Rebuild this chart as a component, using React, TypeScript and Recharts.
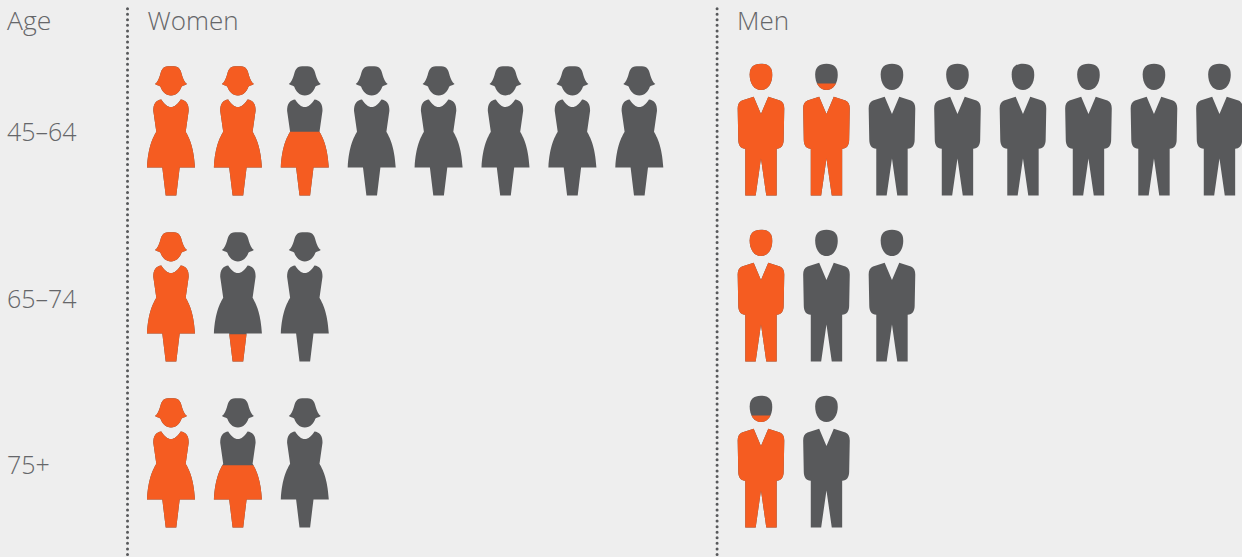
import React from 'react';
import { ScatterChart, Scatter, XAxis, YAxis, ReferenceLine } from 'recharts';

const ageGroups = ['45–64', '65–74', '75+'];
// icons drawn in each row, and how many of them are orange
const womenIcons = [8, 3, 3];
const womenFilled = [2.49, 1.21, 1.48];
const menIcons = [8, 3, 2];
const menFilled = [1.85, 1, 0.85];

const ORANGE = '#f55c21';
const GREY = '#58595b';
const TEXT = '#656669';
const FONT = '"Open Sans", sans-serif';

const WOMAN_PATHS = [
  'M0 0.5 C4 0.5 6 0.7 7.5 2 C9.5 3.7 10 6 11 9.5 C12 13 13.5 16.5 16 18.3 C13.5 19.8 11.5 20 10.5 21 C9 25.5 5.5 29.7 0 29.7 C-5.5 29.7 -9 25.5 -10.5 21 C-11.5 20 -13.5 19.8 -16 18.3 C-13.5 16.5 -12 13 -11 9.5 C-10 6 -9.5 3.7 -7.5 2 C-6 0.7 -4 0.5 0 0.5Z',
  'M-9.7 33.7 C-6.5 38.5 -3.5 41.3 0 41.3 C3.5 41.3 6.5 38.5 9.7 33.7 C12 33.8 14 35 15.5 36.8 C17.3 39 17.7 42 17.7 45 L14.7 66 C17.5 71 22.8 80 24 101.7 L8.7 101.7 L5.3 129.7 L-5.3 129.7 L-8.7 101.7 L-24 101.7 C-22.8 80 -17.5 71 -14.7 66 L-17.7 45 C-17.7 42 -17.3 39 -15.5 36.8 C-14 35 -12 33.8 -9.7 33.7Z',
];
const MAN_PATHS = [
  'M0 0 C7.5 0 11.3 3.5 11.3 11 C11.3 19.5 7 26.3 0 26.3 C-7 26.3 -11.3 19.5 -11.3 11 C-11.3 3.5 -7.5 0 0 0Z',
  'M7.3 33 L19 36.8 C22 38 23.3 41 23.3 44.7 L22.7 76 C22.7 81 20.5 85 15.7 85 L15.7 131.7 L5.3 131.7 L0 94.7 L-5.3 131.7 L-15.7 131.7 L-15.7 85 C-20.5 85 -22.7 81 -22.7 76 L-23.3 44.7 C-23.3 41 -22 38 -19 36.8 L-7.3 33 L0 50.3Z',
];

const buildRows = (icons: number[], filled: number[]) =>
  icons.flatMap((count, row) =>
    Array.from({ length: count }, (_, slot) => ({
      slot,
      row,
      share: Math.max(0, Math.min(1, filled[row] - slot)),
    }))
  );

const womenData = buildRows(womenIcons, womenFilled);
const menData = buildRows(menIcons, menFilled);

const Person = ({ cx, cy, payload, paths, height }: any) => {
  const id = React.useId();
  const top = cy + 65.4 - height;
  const orangeTop = height * (1 - payload.share);
  return (
    <g transform={`translate(${cx},${top})`}>
      <clipPath id={id}>
        <rect x={-30} y={orangeTop} width={60} height={height - orangeTop + 1} />
      </clipPath>
      {paths.map((d: string) => (
        <path key={d} d={d} fill={GREY} />
      ))}
      {payload.share > 0 &&
        paths.map((d: string) => <path key={d} d={d} fill={ORANGE} clipPath={`url(#${id})`} />)}
    </g>
  );
};

const AgeTick = ({ y, payload }: any) => (
  <text x={7} y={y + 11.5} fontFamily={FONT} fontWeight={300} fontSize={25} fill={TEXT}>
    {ageGroups[payload.value]}
  </text>
);

const header = (value: string) => ({ viewBox }: any) => (
  <text x={viewBox.x + 20} y={30} fontFamily={FONT} fontWeight={300} fontSize={26} fill={TEXT}>
    {value}
  </text>
);

const dividerProps = {
  stroke: GREY,
  strokeWidth: 3,
  strokeLinecap: 'round' as const,
  strokeDasharray: '0 5.57',
};

export default function App() {
  return (
    <div style={{ position: 'absolute', left: 0, top: 0, width: 1242, height: 557, background: '#eeeeee' }}>
      <ScatterChart width={1242} height={557} margin={{ top: 0, right: 0, bottom: 0, left: 0 }}>
        <XAxis xAxisId="women" type="number" dataKey="slot" domain={[-2.556, 16.009]} allowDataOverflow hide />
        <XAxis xAxisId="men" type="number" dataKey="slot" domain={[-11.618, 7.344]} allowDataOverflow hide />
        <YAxis
          type="number"
          dataKey="row"
          reversed
          mirror
          width={100}
          domain={[-0.783, 2.572]}
          allowDataOverflow
          ticks={[0, 1, 2]}
          tick={<AgeTick />}
          axisLine={false}
          tickLine={false}
        />
        <ReferenceLine
          xAxisId="women"
          segment={[{ x: -0.65, y: -0.731 }, { x: -0.65, y: 2.572 }]}
          label={header('Women')}
          {...dividerProps}
        />
        <ReferenceLine
          xAxisId="men"
          segment={[{ x: -0.67, y: -0.731 }, { x: -0.67, y: 2.572 }]}
          label={header('Men')}
          {...dividerProps}
        />
        <Scatter
          xAxisId="women"
          data={womenData}
          isAnimationActive={false}
          shape={(p: any) => <Person {...p} paths={WOMAN_PATHS} height={129.7} />}
        />
        <Scatter
          xAxisId="men"
          data={menData}
          isAnimationActive={false}
          shape={(p: any) => <Person {...p} paths={MAN_PATHS} height={131.7} />}
        />
        <text x={7} y={30} fontFamily={FONT} fontWeight={300} fontSize={26.5} fill={TEXT}>
          Age
        </text>
      </ScatterChart>
    </div>
  );
}
